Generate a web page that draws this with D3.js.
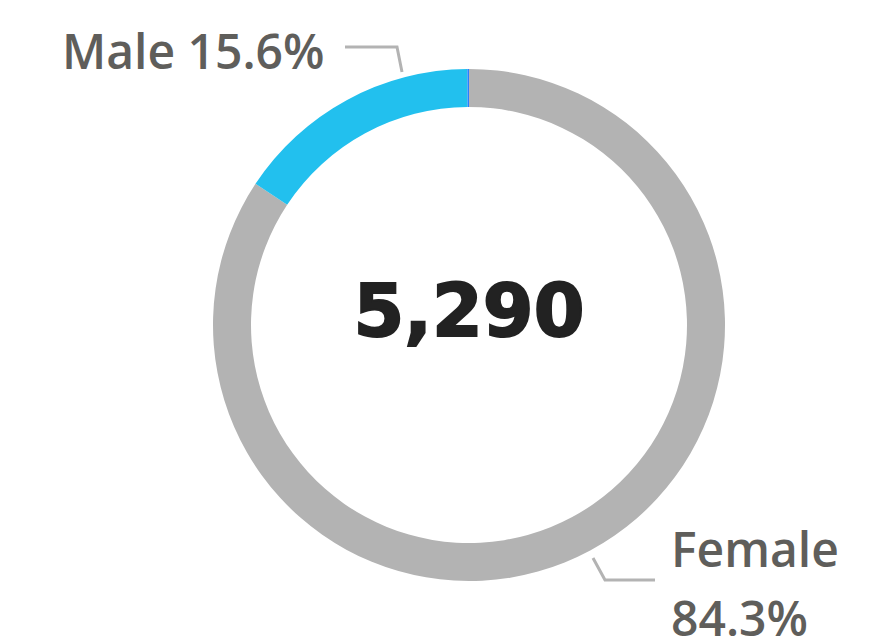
<!DOCTYPE html>
<html>
<head>
<meta charset="utf-8">
<script src="https://cdn.jsdelivr.net/npm/d3@7"></script>
<style>
  html, body { margin: 0; padding: 0; background: #fff; }
  svg { display: block; }
</style>
</head>
<body>
<svg width="878" height="641"></svg>
<script>
(function(){
  var labels = ["Female", "Male", "Other"];
  var shares = [84.3, 15.6, 0.1];
  var colors = ["#b3b3b3", "#22c0ee", "#2a7fff"];
  var total = "5,290";

  var svg = d3.select("svg");
  var cx = 469, cy = 325, outerR = 256, innerR = 218;

  var pie = d3.pie().sort(null).value(function(d){ return d; });
  var arc = d3.arc().innerRadius(innerR).outerRadius(outerR);

  var g = svg.append("g").attr("transform", "translate(" + cx + "," + cy + ")");
  g.selectAll("path").data(pie(shares)).enter().append("path")
    .attr("d", arc)
    .style("fill", function(d, i){ return colors[i]; });

  g.append("text")
    .attr("x", 0).attr("y", 11)
    .attr("text-anchor", "middle")
    .style("font-family", "'DejaVu Sans', sans-serif")
    .style("font-weight", "bold")
    .style("font-size", "73px")
    .style("fill", "#222")
    .style("stroke", "#222")
    .style("stroke-width", 2)
    .text(total);

  // leader lines
  var line = d3.line();
  svg.append("path")
    .attr("d", line([[345, 47], [397, 47], [402, 72]]))
    .style("fill", "none").style("stroke", "#b3b3b3").style("stroke-width", 3);
  svg.append("path")
    .attr("d", line([[593, 558], [605, 580], [655, 580]]))
    .style("fill", "none").style("stroke", "#b3b3b3").style("stroke-width", 3);

  var lab = svg.append("g")
    .style("font-family", "'Open Sans', 'Noto Sans', sans-serif")
    .style("font-weight", 600)
    .style("font-size", "48px")
    .style("fill", "#5f5e5b");

  lab.append("text").attr("x", 62).attr("y", 69)
    .text(labels[1] + " " + shares[1].toFixed(1) + "%");
  lab.append("text").attr("x", 671).attr("y", 567)
    .text(labels[0]);
  lab.append("text").attr("x", 671).attr("y", 636)
    .text(shares[0].toFixed(1) + "%");
})();
</script>
</body>
</html>
